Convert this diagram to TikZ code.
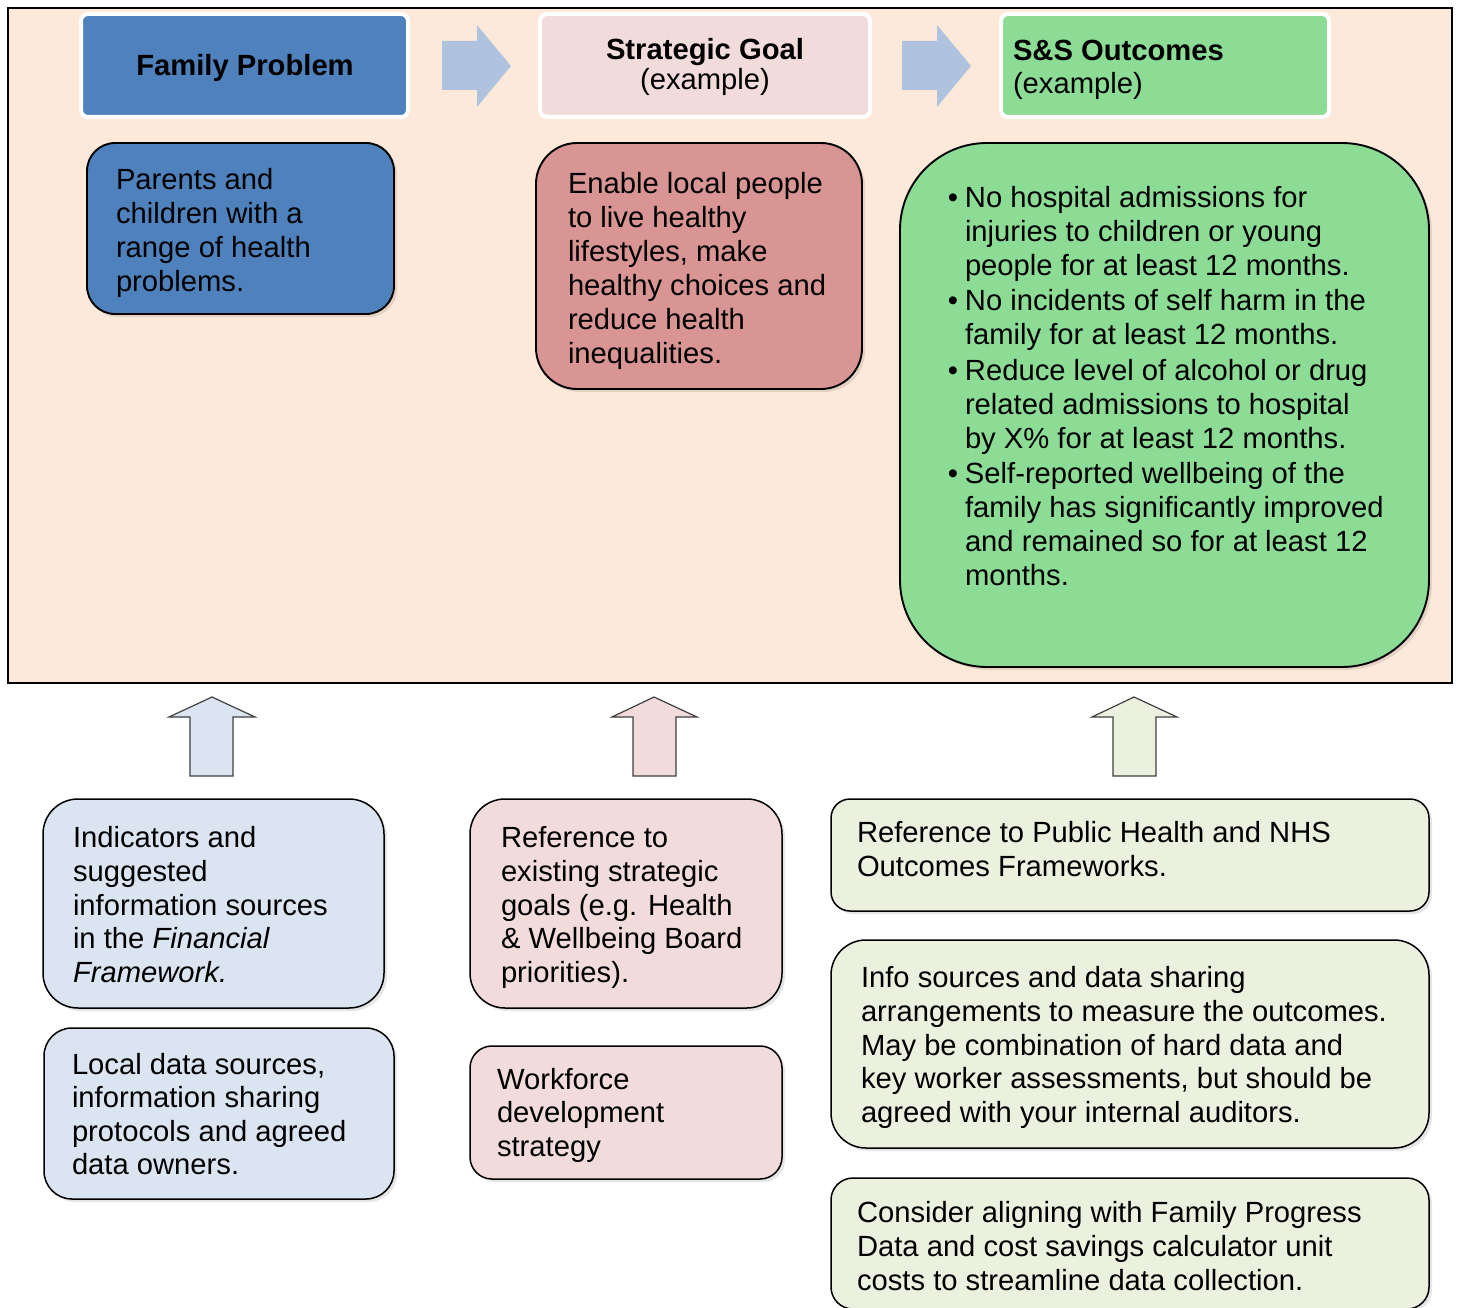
\documentclass[tikz,border=0pt]{standalone}
\usepackage{fontspec}
\setmainfont{Liberation Sans}
\usetikzlibrary{shadows}
\definecolor{peach}{HTML}{FDE9D9}
\definecolor{hblue}{HTML}{4F81BD}
\definecolor{hpink}{HTML}{F2DCDB}
\definecolor{hgreen}{HTML}{8CDC96}
\definecolor{rbox}{HTML}{D99594}
\definecolor{arrblue}{HTML}{B0C3DE}
\definecolor{lblue}{HTML}{DBE5F1}
\definecolor{lpink}{HTML}{F2DCDB}
\definecolor{lgreen}{HTML}{EBF1DE}
\definecolor{arrline}{HTML}{404040}
\newcommand\bul{\llap{\textbullet\hspace{7pt}}}
\newcommand\ml[1]{\begin{tabular}[t]{@{}l@{}}#1\end{tabular}}
\begin{document}
\begin{tikzpicture}[x=1pt,y=-1pt,
  every node/.style={inner sep=0pt, outer sep=0pt},
  txt/.style={font=\fontsize{29.2}{34}\selectfont, anchor=base west, text=black},
  htxt/.style={font=\fontsize{29.2}{34}\selectfont, text=black},
  hdr/.style={draw=white, line width=4pt, rounded corners=7pt, anchor=north west},
  cbox/.style={draw=black, line width=1.9pt, anchor=north west,
    drop shadow={shadow xshift=3pt, shadow yshift=-3pt, opacity=0.10, fill=black}},
  lbox/.style={cbox, line width=1.5pt},
  rarrow/.style={fill=arrblue, draw=none},
  uarrow/.style={draw=arrline, line width=1.2pt, line join=miter},
]
\useasboundingbox (0,0) rectangle (1459,1308);
\fill[white] (0,0) rectangle (1459,1308);

% frame
\node[draw=black, line width=2pt, fill=peach, anchor=north west,
  minimum width=1444pt, minimum height=675pt] (frame) at (8,8) {};

% headers
\node[hdr, fill=hblue, minimum width=327pt, minimum height=103pt] (hfam) at (81,14) {};
\node[hdr, fill=hpink, minimum width=330pt, minimum height=103pt] (hstr) at (540,14) {};
\node[hdr, fill=hgreen, minimum width=328pt, minimum height=103pt] (hss) at (1001,14) {};

\node[htxt, anchor=base] (hfamt) at (245,76) {\bfseries Family Problem};
\node[htxt, anchor=base] (hstrt1) at (705,60) {\bfseries Strategic Goal};
\node[htxt, anchor=base] (hstrt2) at (705,90) {(example)};
\node[htxt, anchor=base west] (hsst1) at (1013,61) {\bfseries S\&S Outcomes};
\node[htxt, anchor=base west] (hsst2) at (1013,94) {(example)};

% right block arrows
\fill[rarrow] (442,41) -- (477,41) -- (477,25) -- (511,66) -- (477,107) -- (477,90) -- (442,90) -- cycle;
\fill[rarrow] (902,41) -- (937,41) -- (937,25) -- (971,66) -- (937,107) -- (937,90) -- (902,90) -- cycle;

% top content boxes
\node[cbox, fill=hblue, rounded corners=28pt, minimum width=307pt, minimum height=171pt] (parents) at (87,143) {};
\node[cbox, fill=rbox, rounded corners=41pt, minimum width=326pt, minimum height=246pt] (enable) at (536,143) {};
\node[cbox, fill=hgreen, rounded corners=87pt, minimum width=529pt, minimum height=524pt] (outc) at (900,143) {};

\node[txt] (parentst) at (116,190) {\ml{Parents and\\children with a\\range of health\\problems.}};
\node[txt] (enablet) at (568,194) {\ml{Enable local people\\to live healthy\\lifestyles, make\\healthy choices and\\reduce health\\inequalities.}};
\node[txt] (outct) at (965,207.5) {\ml{\bul No hospital admissions for\\injuries to children or young\\people for at least 12 months.\\[1.5pt]
\bul No incidents of self harm in the\\family for at least 12 months.\\[1.5pt]
\bul Reduce level of alcohol or drug\\related admissions to hospital\\by X\% for at least 12 months.\\[1.5pt]
\bul Self-reported wellbeing of the\\family has significantly improved\\and remained so for at least 12\\months.}};

% up arrows
\filldraw[uarrow, fill=lblue] (212,697) -- (255,717) -- (233,717) -- (233,776) -- (190,776) -- (190,717) -- (169,717) -- cycle;
\filldraw[uarrow, fill=lpink] (654,697) -- (697,717) -- (676,717) -- (676,776) -- (633,776) -- (633,717) -- (612,717) -- cycle;
\filldraw[uarrow, fill=lgreen] (1134,697) -- (1177,717) -- (1156,717) -- (1156,776) -- (1113,776) -- (1113,717) -- (1092,717) -- cycle;

% bottom boxes
\node[lbox, fill=lblue, rounded corners=35pt, minimum width=341pt, minimum height=209pt] (ind) at (43,799) {};
\node[lbox, fill=lblue, rounded corners=28pt, minimum width=350pt, minimum height=171pt] (loc) at (44,1028) {};
\node[lbox, fill=lpink, rounded corners=35pt, minimum width=312pt, minimum height=209pt] (refex) at (470,799) {};
\node[lbox, fill=lpink, rounded corners=22pt, minimum width=312pt, minimum height=133pt] (work) at (470,1046) {};
\node[lbox, fill=lgreen, rounded corners=19pt, minimum width=598pt, minimum height=112pt] (refph) at (831,799) {};
\node[lbox, fill=lgreen, rounded corners=35pt, minimum width=598pt, minimum height=208pt] (info) at (831,940) {};
\node[lbox, fill=lgreen, rounded corners=22pt, minimum width=598pt, minimum height=131pt] (cons) at (831,1178) {};

\node[txt, font=\fontsize{29.2}{33.8}\selectfont] (indt) at (73,847.5) {\ml{Indicators and\\suggested\\information sources\\in the \textit{Financial}\\\textit{Framework.}}};
\node[txt, font=\fontsize{29.2}{33.4}\selectfont] (loct) at (72,1074.5) {\ml{Local data sources,\\information sharing\\protocols and agreed\\data owners.}};
\node[txt, font=\fontsize{29.2}{33.8}\selectfont] (refext) at (501,847.5) {\ml{Reference to\\existing strategic\\goals (e.g. Health\\\& Wellbeing Board\\priorities).}};
\node[txt, font=\fontsize{29.2}{33.5}\selectfont] (workt) at (497,1089) {\ml{Workforce\\development\\strategy}};
\node[txt, font=\fontsize{29.2}{33.5}\selectfont] (refpht) at (857,842.5) {\ml{Reference to Public Health and NHS\\Outcomes Frameworks.}};
\node[txt, font=\fontsize{29.2}{33.8}\selectfont] (infot) at (861,987.5) {\ml{Info sources and data sharing\\arrangements to measure the outcomes.\\May be combination of hard data and\\key worker assessments, but should be\\agreed with your internal auditors.}};
\node[txt, font=\fontsize{29.2}{33.8}\selectfont] (const) at (857,1222.5) {\ml{Consider aligning with Family Progress\\Data and cost savings calculator unit\\costs to streamline data collection.}};
\end{tikzpicture}
\end{document}
